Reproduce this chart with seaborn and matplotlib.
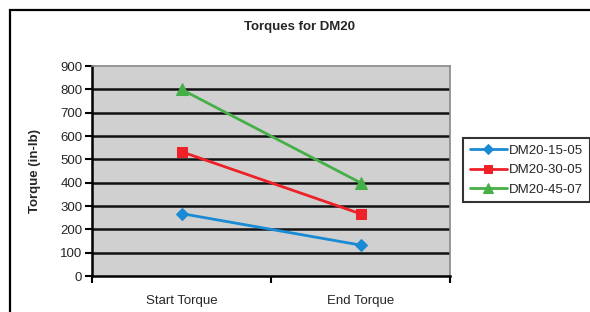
import pandas as pd
import matplotlib.pyplot as plt
import seaborn as sns
from matplotlib.patches import Rectangle

# Дані з графіка
categories = ['Start Torque', 'End Torque']
series_names = ['DM20-15-05', 'DM20-30-05', 'DM20-45-07']
dm20_15_05 = [268, 133]
dm20_30_05 = [533, 267]
dm20_45_07 = [800, 400]

rows = []
for name, vals in zip(series_names, [dm20_15_05, dm20_30_05, dm20_45_07]):
    for cat, v in zip(categories, vals):
        rows.append({'Category': cat, 'Series': name, 'Torque': v})
df = pd.DataFrame(rows)

sns.set_style('white')
plt.rcParams['font.family'] = ['Liberation Sans', 'DejaVu Sans']

fig = plt.figure(figsize=(5.9, 3.12), dpi=100)
ax = fig.add_axes([0.156, 0.115, 0.607, 0.673])

# Зовнішня рамка
fig.patches.append(Rectangle((10 / 590, -0.1), 1.2, 1 - 10 / 312 + 0.1,
                             transform=fig.transFigure, fill=False,
                             edgecolor='black', linewidth=1.6, zorder=0))

palette = {'DM20-15-05': '#1a8ad4', 'DM20-30-05': '#ee2028', 'DM20-45-07': '#46b048'}
markers = {'DM20-15-05': 'D', 'DM20-30-05': 's', 'DM20-45-07': '^'}
sizes = {'DM20-15-05': 6, 'DM20-30-05': 7.5, 'DM20-45-07': 8.5}

ax.set_facecolor('#d0d0d0')
for name in series_names:
    sub = df[df['Series'] == name]
    sns.lineplot(data=sub, x='Category', y='Torque', color=palette[name],
                 marker=markers[name], markersize=sizes[name],
                 markeredgecolor=palette[name], linewidth=2, label=name,
                 sort=False, ax=ax, zorder=3)

ax.set_xlim(-0.5, 1.5)
ax.set_ylim(0, 900)
ax.set_yticks(range(0, 901, 100))
ax.set_xticks([-0.5, 0.5, 1.5])
ax.set_xticklabels([])
ax.tick_params(axis='x', which='major', direction='out', length=5, width=1.5, color='black')
ax.tick_params(axis='y', direction='out', length=5, width=1.5, color='black',
               labelsize=9.5, pad=2, left=True)
ax.xaxis.set_ticks_position('bottom')
for i, cat in enumerate(categories):
    ax.text(i, -0.12, cat, transform=ax.get_xaxis_transform(),
            ha='center', va='center', fontsize=9.5)

for y in range(100, 900, 100):
    ax.axhline(y, color='#111111', linewidth=1.8, zorder=1)

ax.spines['left'].set_color('black')
ax.spines['left'].set_linewidth(1.8)
ax.spines['bottom'].set_color('black')
ax.spines['bottom'].set_linewidth(1.8)
ax.spines['top'].set_color('#888888')
ax.spines['right'].set_color('#888888')
ax.spines['top'].set_linewidth(1.2)
ax.spines['right'].set_linewidth(1.2)

ax.set_xlabel('')
ax.set_ylabel('Torque (in-lb)', fontsize=9.5, fontweight='bold', labelpad=14)
fig.text(300 / 590, 1 - 27 / 312, 'Torques for DM20', ha='center', va='center',
         fontsize=9.5, fontweight='bold')

leg = ax.legend(loc='upper left', bbox_to_anchor=(463 / 590, 1 - 138 / 312),
                bbox_transform=fig.transFigure, frameon=True, fancybox=False,
                fontsize=9.5, handlelength=2.8, borderpad=0.5, labelspacing=0.55,
                handletextpad=0.2, borderaxespad=0, markerscale=0.8)
leg.get_frame().set_edgecolor('black')
leg.get_frame().set_linewidth(1.5)
leg._legend_box.sep = 0

plt.savefig('out.png', dpi=100)
